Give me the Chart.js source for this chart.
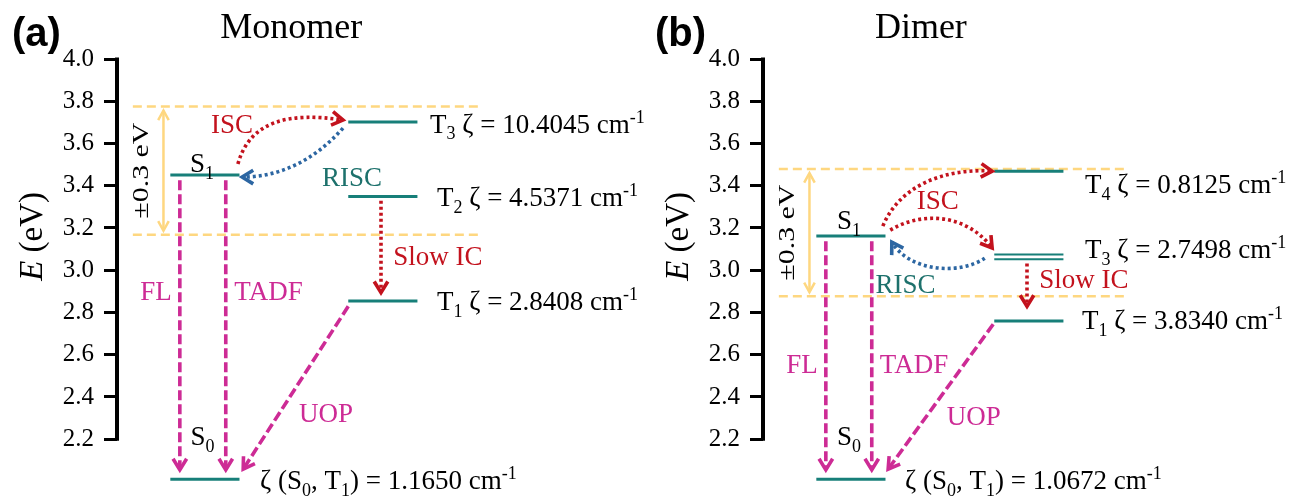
<!DOCTYPE html>
<html>
<head>
<meta charset="utf-8">
<script src="https://cdn.jsdelivr.net/npm/chart.js@4.4.1/dist/chart.umd.min.js"></script>
<style>
  html, body { margin: 0; padding: 0; background: #fff; }
  #wrap { position: relative; width: 1291px; height: 496px; overflow: hidden; }
  canvas { position: absolute; top: 0; }
  #panelA { left: 0; }
  #panelB { left: 645px; }
</style>
</head>
<body>
<div id="wrap">
  <canvas id="panelA" width="660" height="496"></canvas>
  <canvas id="panelB" width="646" height="496"></canvas>
</div>
<script>
// energy axis ticks (eV)
const eTicks = [2.2, 2.4, 2.6, 2.8, 3.0, 3.2, 3.4, 3.6, 3.8, 4.0];

// (a) monomer
const monoSingletE = [2.01, 3.451];            // S0, S1
const monoTriplets = ['T1', 'T2', 'T3'];
const monoTripletE = [2.854, 3.349, 3.702];
const monoZeta = ['2.8408', '4.5371', '10.4045'];
const monoZetaS0T1 = '1.1650';
const monoWindow = [3.168, 3.775];            // S1 ± 0.3 eV

// (b) dimer (T3 is a near-degenerate pair)
const dimerSingletE = [2.01, 3.162];
const dimerTriplets = ['T1', 'T3', 'T3', 'T4'];
const dimerTripletE = [2.759, 3.052, 3.074, 3.469];
const dimerZeta = ['3.8340', '2.7498', '', '0.8125'];
const dimerZetaS0T1 = '1.0672';
const dimerWindow = [2.877, 3.479];

const SERIF = '"Liberation Serif", "Times New Roman", serif';
const TEAL = '#177f79';
const MAGENTA = '#cd2b95';
const RED = '#c3121d';
const BLUE = '#2c66a2';
const YELLOW = '#fed780';
const TEAL_TXT = '#1d716c';
const S_COL = [1.01, 2.32];
const T_COL = [4.38, 5.69];

function segs(str) {
  const out = [];
  str.split(/(_\{[^}]*\}|\^\{[^}]*\})/).forEach(p => {
    if (!p) return;
    if (p.startsWith('_{')) out.push({ t: p.slice(2, -1), k: 'sub' });
    else if (p.startsWith('^{')) out.push({ t: p.slice(2, -1), k: 'sup' });
    else out.push({ t: p, k: 'n' });
  });
  return out;
}

// text with sub/superscripts, y = middle of capitals
function richText(ctx, str, x, y, size, color, align) {
  const parts = segs(str);
  const small = Math.round(size * 0.68);
  const fontOf = k => `${k === 'n' ? size : small}px ${SERIF}`;
  let w = 0;
  parts.forEach(p => { ctx.font = fontOf(p.k); p.w = ctx.measureText(p.t).width; w += p.w; });
  let cx = align === 'center' ? x - w / 2 : x;
  const base = y + size * 0.33;
  ctx.fillStyle = color;
  ctx.textAlign = 'left';
  ctx.textBaseline = 'alphabetic';
  parts.forEach(p => {
    ctx.font = fontOf(p.k);
    const dy = p.k === 'sub' ? size * 0.25 : p.k === 'sup' ? -size * 0.36 : 0;
    ctx.fillText(p.t, cx, base + dy);
    cx += p.w;
  });
}

function head(ctx, tx, ty, ang, len, spread) {
  ctx.beginPath();
  ctx.moveTo(tx - len * Math.cos(ang - spread), ty - len * Math.sin(ang - spread));
  ctx.lineTo(tx, ty);
  ctx.lineTo(tx - len * Math.cos(ang + spread), ty - len * Math.sin(ang + spread));
  ctx.stroke();
}

function makeDecor(p) {
  return {
    id: 'decor',
    afterDatasetsDraw(chart) {
      const ctx = chart.ctx, area = chart.chartArea;
      const X = v => chart.scales.x.getPixelForValue(v);
      const Y = v => chart.scales.y.getPixelForValue(v);
      ctx.save();
      ctx.lineJoin = 'miter';

      // axis spine only over the tick range
      ctx.strokeStyle = '#000';
      ctx.lineWidth = 4;
      ctx.beginPath();
      ctx.moveTo(area.left, Y(eTicks[eTicks.length - 1]) - 1.5);
      ctx.lineTo(area.left, Y(eTicks[0]) + 1.5);
      ctx.stroke();

      // ±0.3 eV window arrow
      const [lo, hi] = p.window;
      const wx = X(0.88), wTop = Y(hi) + 4, wBot = Y(lo) - 4;
      ctx.strokeStyle = YELLOW;
      ctx.lineWidth = 2.5;
      ctx.beginPath(); ctx.moveTo(wx, wTop); ctx.lineTo(wx, wBot); ctx.stroke();
      head(ctx, wx, wTop, -Math.PI / 2, 11, 0.5);
      head(ctx, wx, wBot, Math.PI / 2, 11, 0.5);
      ctx.save();
      ctx.translate(X(0.45), (Y(hi) + Y(lo)) / 2);
      ctx.rotate(-Math.PI / 2);
      ctx.scale(1.3, 1);
      richText(ctx, '±0.3 eV', 0, 0, 23, '#000', 'center');
      ctx.restore();

      // transitions
      p.arrows.forEach(a => {
        ctx.strokeStyle = a.color;
        ctx.lineWidth = a.width || 3.6;
        ctx.setLineDash(a.dash);
        const pts = a.pts.map(q => [X(q[0]), Y(q[1])]);
        ctx.beginPath();
        ctx.moveTo(pts[0][0], pts[0][1]);
        if (pts.length === 4) ctx.bezierCurveTo(pts[1][0], pts[1][1], pts[2][0], pts[2][1], pts[3][0], pts[3][1]);
        else ctx.lineTo(pts[1][0], pts[1][1]);
        ctx.stroke();
        ctx.setLineDash([]);
        const n = pts.length;
        const ang = Math.atan2(pts[n - 1][1] - pts[n - 2][1], pts[n - 1][0] - pts[n - 2][0]);
        head(ctx, pts[n - 1][0], pts[n - 1][1], ang, 13, 0.55);
      });

      // process labels
      p.labels.forEach(l => richText(ctx, l.t, X(l.x), Y(l.y), l.size || 27, l.c, l.align || 'center'));

      // spin-orbit coupling labels
      p.tripletNames.forEach((name, i) => {
        if (!p.zeta[i]) return;
        const pos = p.zetaPos[i];
        richText(ctx, `T_{${name.slice(1)}} ζ = ${p.zeta[i]} cm^{-1}`, X(pos[0]), Y(pos[1]), 27, '#000', 'left');
      });
      richText(ctx, `ζ (S_{0}, T_{1}) = ${p.zetaS0T1} cm^{-1}`, X(p.bottomPos[0]), Y(p.bottomPos[1]), 27, '#000', 'left');

      // y title
      ctx.save();
      ctx.translate(area.left - 86, Y(3.16));
      ctx.rotate(-Math.PI / 2);
      ctx.fillStyle = '#000';
      ctx.textBaseline = 'alphabetic';
      ctx.textAlign = 'left';
      ctx.font = `italic 33px ${SERIF}`;
      const wE = ctx.measureText('E').width;
      ctx.font = `33px ${SERIF}`;
      const wR = ctx.measureText(' (eV)').width;
      const x0 = -(wE + wR) / 2, b = 33 * 0.33;
      ctx.font = `italic 33px ${SERIF}`;
      ctx.fillText('E', x0, b);
      ctx.font = `33px ${SERIF}`;
      ctx.fillText(' (eV)', x0 + wE, b);
      ctx.restore();

      // title and panel tag
      ctx.fillStyle = '#000';
      ctx.textAlign = 'center';
      ctx.font = `36px ${SERIF}`;
      ctx.fillText(p.title, X(p.titleX), 38);
      ctx.textAlign = 'left';
      ctx.font = 'bold 40px "Liberation Sans", Arial, sans-serif';
      ctx.fillText(p.tag, p.tagX, 46);
      ctx.restore();
    }
  };
}

function level(col, e, w) {
  return {
    data: [{ x: col[0], y: e }, { x: col[1], y: e }],
    borderColor: TEAL, borderWidth: w, pointRadius: 0, fill: false, order: 1
  };
}

function buildPanel(p) {
  const datasets = [];
  p.window.forEach(e => datasets.push({
    data: [{ x: 0.3, y: e }, { x: 6.9, y: e }],
    borderColor: YELLOW, borderWidth: 2.5, borderDash: [9, 5],
    pointRadius: 0, fill: false, order: 3
  }));
  p.singletE.forEach(e => datasets.push(level(S_COL, e, 3)));
  p.tripletE.forEach((e, i) => datasets.push(level(T_COL, e, p.tripletWidth[i])));

  new Chart(document.getElementById(p.id), {
    type: 'line',
    data: { datasets },
    options: {
      responsive: false,
      animation: false,
      layout: { padding: { top: 59, bottom: 4, left: 0, right: p.padRight } },
      plugins: { legend: { display: false }, tooltip: { enabled: false } },
      scales: {
        x: { type: 'linear', min: 0, max: 10, display: false },
        y: {
          type: 'linear', min: 1.95, max: 4.0,
          afterFit: s => { s.width = p.axisWidth; s.paddingTop = 0; s.paddingBottom = 0; },
          afterBuildTicks: s => { s.ticks = eTicks.map(v => ({ value: v })); },
          border: { display: false },
          grid: { drawOnChartArea: false, drawTicks: true, tickLength: 13, lineWidth: 3, color: '#000' },
          ticks: {
            padding: 10, color: '#000',
            font: { family: SERIF, size: 25 },
            callback: v => Number(v).toFixed(1)
          }
        }
      }
    },
    plugins: [makeDecor(p)]
  });
}

const [aS0, aS1] = monoSingletE;
const [aT1, aT2] = monoTripletE;
const [bS0, bS1] = dimerSingletE;
const [bT1, bT3] = dimerTripletE;
const DASH = [10, 4];
const DOTS = [3, 3];

buildPanel({
  id: 'panelA', padRight: 15, axisWidth: 117,
  title: 'Monomer', titleX: 3.3, tag: '(a)', tagX: 12,
  singletE: monoSingletE, tripletNames: monoTriplets, tripletE: monoTripletE,
  tripletWidth: [3, 3, 3], zeta: monoZeta, zetaS0T1: monoZetaS0T1, window: monoWindow,
  zetaPos: [[6.06, 2.854], [6.06, 3.346], [5.93, 3.694]],
  bottomPos: [2.71, 2.006],
  arrows: [
    { pts: [[1.19, aS1 - 0.025], [1.19, aS0 + 0.045]], color: MAGENTA, dash: DASH },
    { pts: [[2.06, aS1 - 0.025], [2.06, aS0 + 0.045]], color: MAGENTA, dash: DASH },
    { pts: [[4.38, aT1 - 0.025], [2.39, aS0 + 0.048]], color: MAGENTA, dash: DASH },
    { pts: [[5.0, aT2 - 0.02], [5.0, aT1 + 0.04]], color: RED, dash: DOTS },
    { pts: [[2.29, 3.503], [2.52, 3.711], [3.28, 3.749], [4.28, 3.711]], color: RED, dash: DOTS },
    { pts: [[4.28, 3.673], [3.75, 3.522], [3.09, 3.441], [2.37, 3.441]], color: BLUE, dash: DOTS }
  ],
  labels: [
    { t: 'ISC', x: 2.18, y: 3.692, c: RED },
    { t: 'RISC', x: 4.45, y: 3.443, c: TEAL_TXT },
    { t: 'Slow IC', x: 5.23, y: 3.067, c: RED, align: 'left' },
    { t: 'FL', x: 0.74, y: 2.901, c: MAGENTA },
    { t: 'TADF', x: 2.87, y: 2.901, c: MAGENTA },
    { t: 'UOP', x: 3.96, y: 2.325, c: MAGENTA },
    { t: 'S_{1}', x: 1.61, y: 3.505, c: '#000' },
    { t: 'S_{0}', x: 1.62, y: 2.214, c: '#000' }
  ]
});

buildPanel({
  id: 'panelB', padRight: 0, axisWidth: 118,
  title: 'Dimer', titleX: 2.99, tag: '(b)', tagX: 10,
  singletE: dimerSingletE, tripletNames: dimerTriplets, tripletE: dimerTripletE,
  tripletWidth: [3, 2, 2, 3], zeta: dimerZeta, zetaS0T1: dimerZetaS0T1, window: dimerWindow,
  zetaPos: [[6.04, 2.764], [6.10, 3.10], null, [6.10, 3.408]],
  bottomPos: [2.69, 2.006],
  arrows: [
    { pts: [[1.19, bS1 - 0.025], [1.19, bS0 + 0.045]], color: MAGENTA, dash: DASH },
    { pts: [[2.06, bS1 - 0.025], [2.06, bS0 + 0.045]], color: MAGENTA, dash: DASH },
    { pts: [[4.36, bT1 - 0.015], [2.37, bS0 + 0.048]], color: MAGENTA, dash: DASH },
    { pts: [[5.0, bT3 - 0.02], [5.0, bT1 + 0.07]], color: RED, dash: DOTS },
    { pts: [[2.27, 3.209], [2.59, 3.403], [3.45, 3.484], [4.34, 3.469]], color: RED, dash: DOTS },
    { pts: [[2.41, 3.19], [2.97, 3.275], [3.83, 3.275], [4.34, 3.105]], color: RED, dash: DOTS },
    { pts: [[4.20, 3.057], [3.73, 2.977], [2.78, 2.991], [2.44, 3.133]], color: BLUE, dash: DOTS }
  ],
  labels: [
    { t: 'ISC', x: 3.31, y: 3.332, c: RED },
    { t: 'RISC', x: 2.70, y: 2.934, c: TEAL_TXT },
    { t: 'Slow IC', x: 5.23, y: 2.96, c: RED, align: 'left' },
    { t: 'FL', x: 0.74, y: 2.557, c: MAGENTA },
    { t: 'TADF', x: 2.86, y: 2.557, c: MAGENTA },
    { t: 'UOP', x: 3.99, y: 2.309, c: MAGENTA },
    { t: 'S_{1}', x: 1.63, y: 3.237, c: '#000' },
    { t: 'S_{0}', x: 1.63, y: 2.214, c: '#000' }
  ]
});
</script>
</body>
</html>
